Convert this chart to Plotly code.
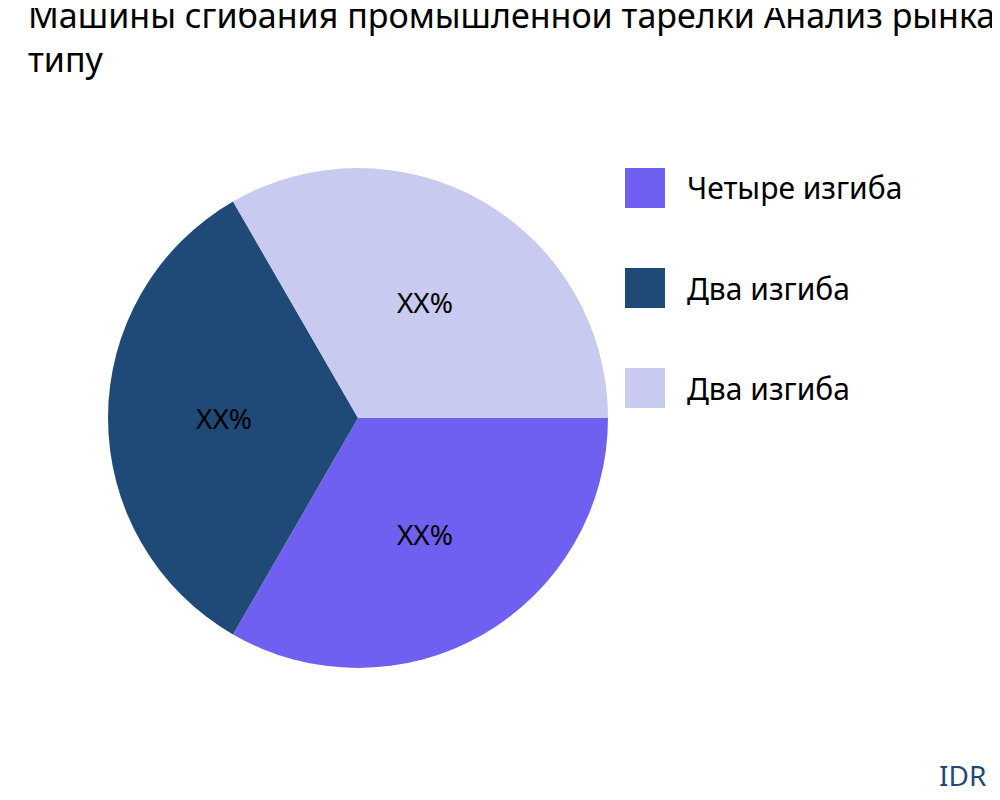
import plotly.graph_objects as go

labels = ["Четыре изгиба", "Два изгиба", "Два изгиба "]
values = [1, 1, 1]
texts = ["XX%", "XX%", "XX%"]
colors = ["#7060f2", "#1f4a78", "#c8caf0"]
title = "Машины сгибания промышленной тарелки Анализ рынка по<br>типу"

fig = go.Figure(go.Pie(
    labels=labels, values=values, text=texts, textinfo="text",
    sort=False, direction="clockwise", rotation=90,
    marker=dict(colors=colors), textfont=dict(size=28, color="black", family="Noto Sans"),
    insidetextorientation="horizontal",
    domain=dict(x=[0.1, 0.6], y=[0.175, 0.8]), showlegend=False,
    hoverinfo="label",
))

shapes, anns = [], []
for i, (lab, col) in enumerate(zip(labels, colors)):
    y0 = 1 - (160 + 100 * i) / 800
    shapes.append(dict(type="rect", xref="paper", yref="paper",
                       x0=0.617, x1=0.657, y0=y0 - 0.05, y1=y0,
                       fillcolor=col, line=dict(width=0)))
    anns.append(dict(xref="paper", yref="paper", x=0.677, y=y0 - 0.025,
                     xanchor="left", yanchor="middle", text=lab.strip(),
                     showarrow=False, font=dict(size=30, color="black")))
anns.append(dict(xref="paper", yref="paper", x=0.98, y=0.015, xanchor="right",
                 yanchor="bottom", text="IDR", showarrow=False,
                 font=dict(size=28, color="#1f4a78")))

fig.update_layout(
    width=1000, height=800,
    margin=dict(l=0, r=0, t=0, b=0, autoexpand=False),
    font=dict(family="Noto Sans"),
    title=dict(text=title, x=0.02, xanchor="left", y=0.975, yanchor="top",
               font=dict(size=34, color="black")),
    shapes=shapes, annotations=anns, paper_bgcolor="white",
)
fig.write_html("out.html")
